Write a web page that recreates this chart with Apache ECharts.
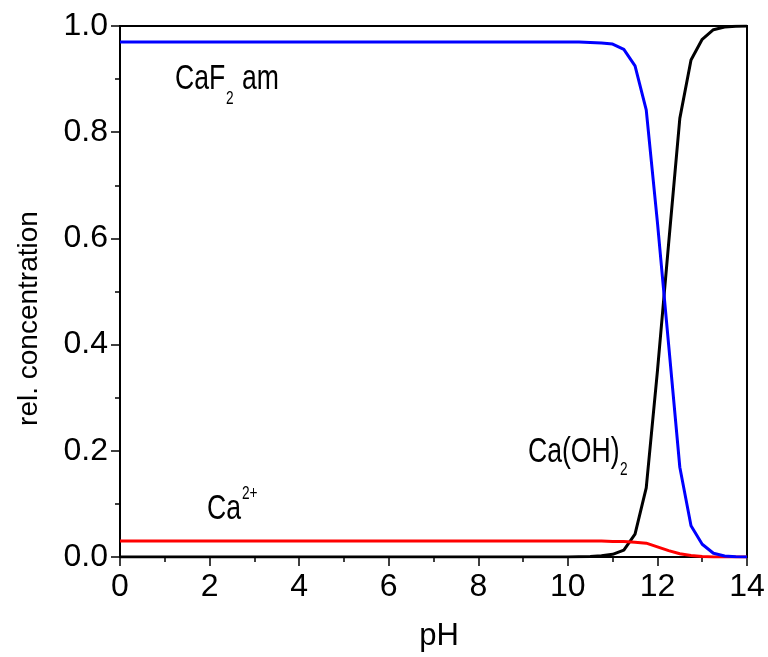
<!DOCTYPE html>
<html>
<head>
<meta charset="utf-8">
<title>CaF2 speciation</title>
<script src="https://cdn.jsdelivr.net/npm/echarts@6/dist/echarts.min.js"></script>
<style>
html, body { margin: 0; padding: 0; background: #fff; }
#chart { width: 768px; height: 657px; }
</style>
</head>
<body>
<div id="chart"></div>
<script>
// pH values and relative concentrations
var ph = [0, 1, 2, 3, 4, 5, 6, 7, 8, 9, 10, 10.25, 10.5, 10.75, 11, 11.25, 11.5, 11.75,
	12, 12.25, 12.5, 12.75, 13, 13.25, 13.5, 13.75, 14];
var caf2Am = [0.97, 0.97, 0.97, 0.97, 0.97, 0.97, 0.97, 0.97, 0.97, 0.97, 0.97, 0.97, 0.969, 0.968,
	0.966, 0.956, 0.925, 0.842, 0.63, 0.40, 0.169, 0.059, 0.024, 0.007, 0.002, 0.0005, 0];
var ca2plus = [0.03, 0.03, 0.03, 0.03, 0.03, 0.03, 0.03, 0.03, 0.03, 0.03, 0.03, 0.03, 0.03, 0.03,
	0.029, 0.029, 0.028, 0.026, 0.019, 0.012, 0.006, 0.003, 0.001, 0, 0, 0, 0];
var caOH2 = [0, 0, 0, 0, 0, 0, 0, 0, 0, 0, 0, 0.0005, 0.001, 0.0025,
	0.005, 0.013, 0.043, 0.13, 0.35, 0.59, 0.826, 0.936, 0.975, 0.993, 0.998, 0.9995, 1];

var xTicks = [0, 2, 4, 6, 8, 10, 12, 14];
var yTicks = ['0.0', '0.2', '0.4', '0.6', '0.8', '1.0'];

function pairs(ys) {
	var data = [];
	for (var i = 0; i < ph.length; i++) {
		data.push([ph[i], ys[i]]);
	}
	return data;
}

var font = "'Liberation Sans', Arial, sans-serif";

// curve labels, narrowed a bit like the original
function label(str, x, y, size) {
	return {
		type : 'text',
		x : x,
		y : y,
		scaleX : 0.76,
		style : {
			text : str,
			x : 0,
			y : 0,
			fontFamily : font,
			fontSize : size,
			fill : '#000',
			align : 'left',
			verticalAlign : 'top'
		}
	};
}

var container = echarts.init(document.getElementById('chart'));
container.setOption({
	animation : false,
	backgroundColor : '#fff',
	grid : {
		left : 120,
		right : 21,
		top : 26,
		bottom : 100,
		show : true,
		borderColor : '#000',
		borderWidth : 2
	},
	xAxis : {
		type : 'value',
		min : 0,
		max : 14,
		interval : 2,
		name : 'pH',
		nameLocation : 'middle',
		nameGap : 64,
		nameTextStyle : {
			fontFamily : font,
			fontSize : 31,
			color : '#000',
			padding : [0, 0, 0, 11]
		},
		axisLine : { lineStyle : { color : '#000', width : 2 } },
		axisTick : { length : 9, lineStyle : { color : '#000', width : 1.5 } },
		minorTick : { show : true, splitNumber : 2, length : 5, lineStyle : { color : '#000', width : 1.5 } },
		splitLine : { show : false },
		axisLabel : {
			margin : 14,
			fontFamily : font,
			fontSize : 32,
			color : '#000',
			formatter : function (v) {
				return xTicks.indexOf(v) >= 0 ? String(v) : '';
			}
		}
	},
	yAxis : {
		type : 'value',
		min : 0,
		max : 1,
		interval : 0.2,
		name : 'rel. concentration',
		nameLocation : 'middle',
		nameGap : 77,
		nameRotate : 90,
		nameTextStyle : {
			fontFamily : font,
			fontSize : 28,
			color : '#000',
			padding : [0, 54, 0, 0]
		},
		axisLine : { lineStyle : { color : '#000', width : 2 } },
		axisTick : { length : 9, lineStyle : { color : '#000', width : 1.5 } },
		minorTick : { show : true, splitNumber : 2, length : 5, lineStyle : { color : '#000', width : 1.5 } },
		splitLine : { show : false },
		axisLabel : {
			margin : 12,
			fontFamily : font,
			fontSize : 32,
			color : '#000',
			formatter : function (v) {
				return yTicks[Math.round(v / 0.2)];
			}
		}
	},
	graphic : [
		label('CaF', 175, 62, 35),
		label('2', 226, 90, 18),
		label('am', 242, 62, 35),
		label('Ca', 207, 492, 35),
		label('2+', 242, 485, 18),
		label('Ca(OH)', 528, 435, 35),
		label('2', 620, 461, 18)
	],
	series : [
		{
			name : 'Ca(OH)2',
			type : 'line',
			data : pairs(caOH2),
			symbol : 'none',
			lineStyle : { color : '#000', width : 3 }
		},
		{
			name : 'Ca2+',
			type : 'line',
			data : pairs(ca2plus),
			symbol : 'none',
			lineStyle : { color : '#ff0000', width : 3 }
		},
		{
			name : 'CaF2 am',
			type : 'line',
			data : pairs(caf2Am),
			symbol : 'none',
			lineStyle : { color : '#0000ff', width : 3 }
		}
	]
});
</script>
</body>
</html>
